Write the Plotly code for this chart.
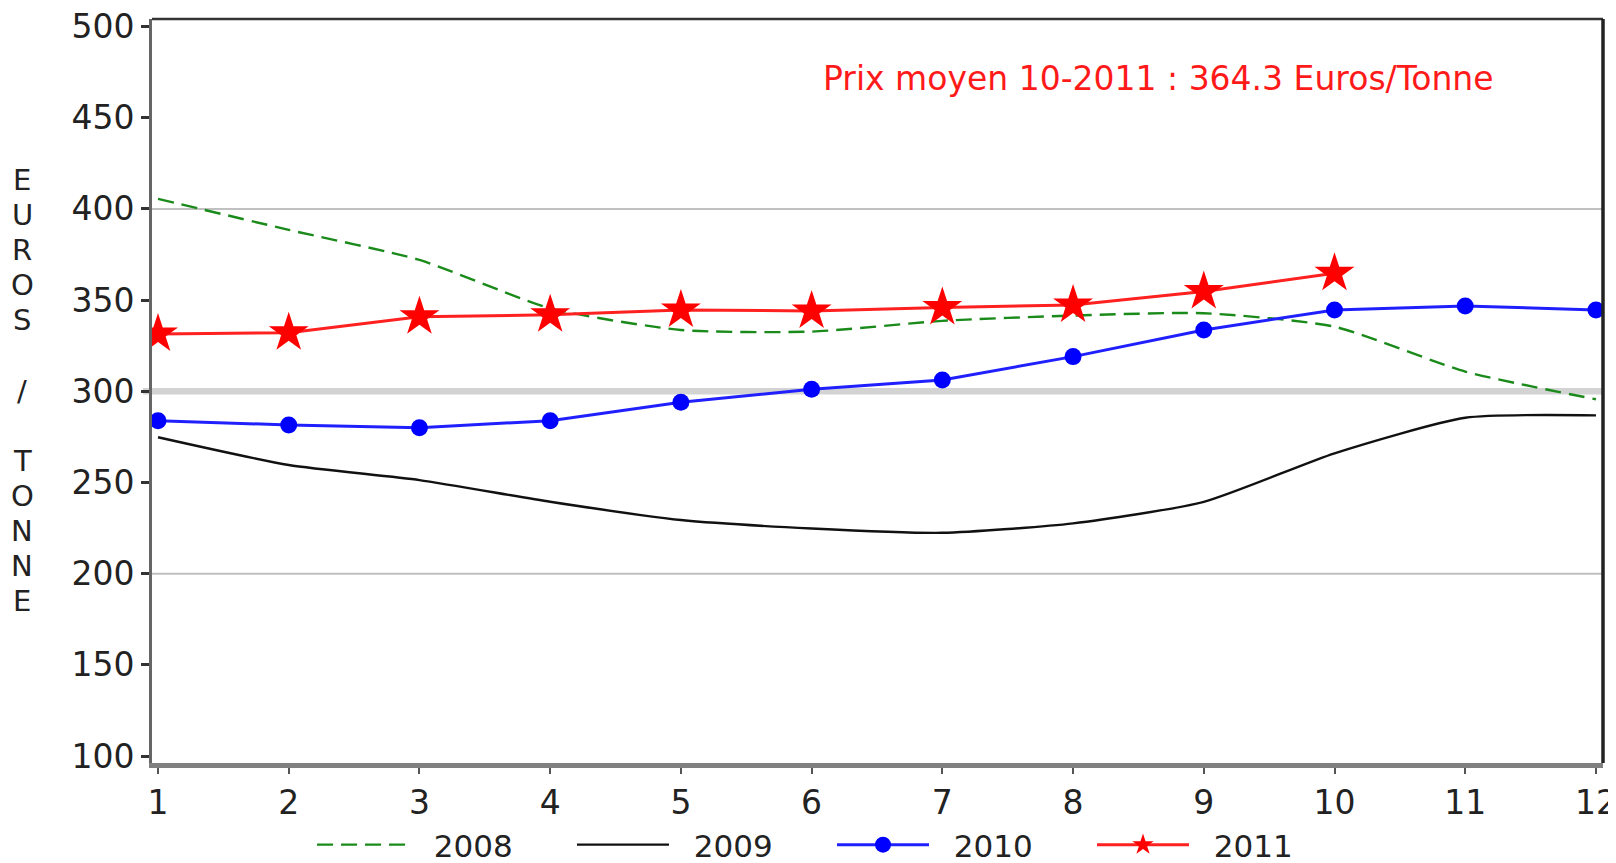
import plotly.graph_objects as go

# ---- data ----
months = [1, 2, 3, 4, 5, 6, 7, 8, 9, 10, 11, 12]
prix_2008 = [405.5, 388.5, 372.0, 345.5, 333.6, 332.7, 338.6, 341.5, 342.8, 335.4, 310.8, 295.6]
prix_2009 = [274.8, 259.6, 251.3, 239.4, 229.4, 224.8, 222.4, 227.6, 239.4, 266.0, 285.5, 286.8]
prix_2010 = [283.9, 281.5, 280.0, 283.9, 294.0, 301.1, 306.2, 319.0, 333.6, 344.6, 346.8, 344.6]
months_2011 = [1, 2, 3, 4, 5, 6, 7, 8, 9, 10]
prix_2011 = [331.4, 332.1, 340.9, 341.9, 344.6, 344.0, 345.9, 347.3, 354.7, 364.7]
y_ticks = [100, 150, 200, 250, 300, 350, 400, 450, 500]
grid_light = [200, 400]
grid_ref = 300
series_names = ["2008", "2009", "2010", "2011"]
note_text = "Prix moyen 10-2011 : 364.3 Euros/Tonne"
y_title = "EUROS / TONNE"

# ---- layout geometry (page pixels; the page body has an 8px margin) ----
OFF = 8
W, H = 1616 - OFF, 863 - OFF
PLOT_L, PLOT_R, PLOT_T, PLOT_B = 152, 1603, 19, 763   # page coords of plot area
L = PLOT_L - OFF
T = PLOT_T - OFF
R = W - (PLOT_R - OFF)
B = H - (PLOT_B - OFF)
pw = W - L - R
ph = H - T - B


def px_x(px):
    return (px - PLOT_L) / pw


def px_y(py):
    return (PLOT_B - py) / ph


FONT = "DejaVu Sans"
FS = 33
PAD = "\u00a0\u00a0"

fig = go.Figure()
fig.add_trace(go.Scatter(
    x=months, y=prix_2008, name=PAD + series_names[0], mode="lines",
    line=dict(color="#1a8a1a", width=2.4, dash="16px,8px", shape="spline", smoothing=0.6),
))
fig.add_trace(go.Scatter(
    x=months, y=prix_2009, name=PAD + series_names[1], mode="lines",
    line=dict(color="#111111", width=2.4, shape="spline", smoothing=0.6),
))
fig.add_trace(go.Scatter(
    x=months, y=prix_2010, name=PAD + series_names[2], mode="lines+markers",
    line=dict(color="#2020ff", width=3),
    marker=dict(symbol="circle", size=17, color="#0000ff"),
))
fig.add_trace(go.Scatter(
    x=months_2011, y=prix_2011, name=PAD + series_names[3], mode="lines+markers",
    line=dict(color="#ff2020", width=3),
    marker=dict(symbol="star", size=30, color="#ff0000"),
))

shapes = []
for g in grid_light:
    shapes.append(dict(type="line", xref="paper", yref="y", x0=0, x1=1, y0=g, y1=g,
                       line=dict(color="#c0c0c0", width=2), layer="below"))
shapes.append(dict(type="line", xref="paper", yref="y", x0=px_x(143), x1=1, y0=grid_ref, y1=grid_ref,
                   line=dict(color="#d3d3d3", width=6.5), layer="below"))
# top & right frame
shapes.append(dict(type="line", xref="paper", yref="paper", x0=0, x1=1, y0=1, y1=1,
                   line=dict(color="#333333", width=2.5)))
shapes.append(dict(type="line", xref="paper", yref="paper", x0=1, x1=1, y0=0, y1=1,
                   line=dict(color="#222222", width=3.5)))

annotations = [dict(
    text=note_text, xref="paper", yref="paper", x=px_x(1158), y=px_y(78),
    xanchor="center", yanchor="middle", showarrow=False,
    font=dict(family=FONT, size=FS, color="#ff1a1a"),
)]
for i, ch in enumerate(y_title):
    if ch == " ":
        continue
    annotations.append(dict(
        text=ch, xref="paper", yref="paper", x=px_x(22), y=px_y(180 + i * 35.1),
        xanchor="center", yanchor="middle", showarrow=False,
        font=dict(family=FONT, size=29, color="#222222"),
    ))

fig.update_layout(
    width=W, height=H,
    margin=dict(l=L, r=R, t=T, b=B, autoexpand=False),
    paper_bgcolor="white", plot_bgcolor="white",
    font=dict(family=FONT, size=FS, color="#222222"),
    showlegend=True,
    legend=dict(
        orientation="h", x=px_x(312), y=px_y(845), xanchor="left", yanchor="middle",
        font=dict(family=FONT, size=31, color="#222222"),
        entrywidth=153, entrywidthmode="pixels", itemwidth=92,
        bgcolor="rgba(0,0,0,0)",
    ),
    xaxis=dict(
        range=[0.954, 12.054], tickmode="array", tickvals=months,
        ticktext=[str(m) for m in months],
        showgrid=False, zeroline=False,
        showline=True, linecolor="#808080", linewidth=5,
        ticks="outside", ticklen=6, tickwidth=2, tickcolor="#555555",
        ticklabeloverflow="allow",
        tickfont=dict(family=FONT, size=FS, color="#222222"),
    ),
    yaxis=dict(
        range=[96.2, 504.1], tickmode="array", tickvals=y_ticks,
        showgrid=False, zeroline=False,
        showline=True, linecolor="#666666", linewidth=3,
        ticks="outside", ticklen=8, tickwidth=2.5, tickcolor="#333333",
        ticklabeloverflow="allow",
        tickfont=dict(family=FONT, size=FS, color="#222222"),
    ),
    shapes=shapes,
    annotations=annotations,
)

fig.write_html("out.html")
